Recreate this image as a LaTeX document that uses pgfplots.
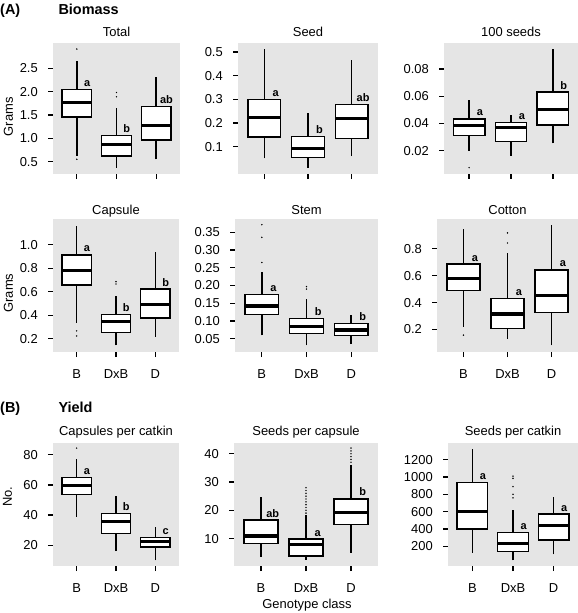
\documentclass[border=0pt]{standalone}
\usepackage{pgfplots}
\pgfplotsset{compat=1.18}
\usepackage{fontspec}
\setmainfont{Liberation Sans}
\definecolor{ggray}{RGB}{229,229,229}

\pgfplotsset{
  gg/.style={
    scale only axis,
    anchor=north west,
    axis background/.style={fill=ggray},
    axis line style={draw=none},
    tick pos=left,
    tick align=outside,
    major tick length=5bp,
    major tick style={draw=black, line width=1.3bp},
    tick style={draw=black, line width=1.3bp},
    scaled y ticks=false,
    xmin=0.4, xmax=3.6,
    xtick={1,2,3},
    xticklabels={B,DxB,D},
    font=\fontsize{13}{15}\selectfont,
    /pgf/number format/assume math mode=true,
    yticklabel style={anchor=east, inner sep=0pt, xshift=-10bp},
    xticklabel style={anchor=base, inner sep=0pt, yshift=-21.6bp},
    clip=false,
  },
  wl/.style={black, line width=1.4bp, mark=none},
  bl/.style={draw=black, fill=white, line width=1.4bp, mark=none, line join=miter},
  md/.style={black, line width=3.2bp, mark=none},
  ol/.style={only marks, mark=*, mark size=0.65bp, black, mark options={line width=0.1bp}},
}
\tikzset{lt/.style={anchor=base, yshift=3bp, inner sep=0pt, font=\fontsize{11}{13}\selectfont\bfseries}}
% position, lower whisker, Q1, median, Q3, upper whisker
\newcommand{\bx}[6]{%
  \addplot[wl] coordinates {(#1,#2) (#1,#3)};
  \addplot[wl] coordinates {(#1,#5) (#1,#6)};
  \addplot[bl] table[row sep=\\, x expr=#1+\thisrow{d}, y=v] {d v\\ 0 #3\\ 0.375 #3\\ 0.375 #5\\ -0.375 #5\\ -0.375 #3\\ 0 #3\\};
  \addplot[md] table[row sep=\\, x expr=#1+\thisrow{d}, y=v] {d v\\ -0.375 #4\\ 0.375 #4\\};
}
\newcommand{\bxo}[7]{\bx{#1}{#2}{#3}{#4}{#5}{#6}%
  \addplot[ol] table[row sep=\\, x expr=#1, y index=0] {v\\ #7};}

\begin{document}
\begin{tikzpicture}
\useasboundingbox (0bp,0bp) rectangle (578bp,-613bp);

% headers
\node[anchor=base west, inner sep=0pt, font=\fontsize{14.5}{16}\selectfont\bfseries] at (0bp,-14.5bp) {(A)};
\node[anchor=base west, inner sep=0pt, font=\fontsize{14.5}{16}\selectfont\bfseries] at (58.3bp,-14.5bp) {Biomass};
\node[anchor=base west, inner sep=0pt, font=\fontsize{14.5}{16}\selectfont\bfseries] at (0bp,-412bp) {(B)};
\node[anchor=base west, inner sep=0pt, font=\fontsize{14.5}{16}\selectfont\bfseries] at (58.3bp,-412bp) {Yield};

% panel titles
\begin{scope}[every node/.style={anchor=base, inner sep=0pt, font=\fontsize{13}{15}\selectfont}]
\node at (116.5bp,-36bp) {Total};
\node at (308bp,-36bp) {Seed};
\node at (511bp,-36bp) {100 seeds};
\node at (116bp,-214bp) {Capsule};
\node at (306.5bp,-214bp) {Stem};
\node at (507.5bp,-214bp) {Cotton};
\node at (116bp,-435bp) {Capsules per catkin};
\node at (306bp,-435bp) {Seeds per capsule};
\node at (513bp,-435bp) {Seeds per catkin};
\node at (307bp,-608bp) {Genotype class};
\end{scope}
\begin{scope}[every node/.style={rotate=90, anchor=center, inner sep=0pt, font=\fontsize{13}{15}\selectfont}]
\node at (8.3bp,-116.7bp) {Grams};
\node at (8.3bp,-293bp) {Grams};
\node at (7.5bp,-496.7bp) {No.};
\end{scope}

% ---------- Row 1 ----------
\begin{axis}[gg, at={(53bp,-43bp)}, width=127bp, height=131bp, ymin=0.236, ymax=3.04,
  ytick={0.5,1,1.5,2,2.5}, yticklabels={0.5,1.0,1.5,2.0,2.5}, xticklabels={,,}]
\bxo{1}{0.63}{1.46}{1.76}{2.04}{2.66}{2.91\\ 0.55\\}
\bxo{2}{0.37}{0.62}{0.87}{1.06}{1.64}{1.98\\ 1.89\\}
\bx{3}{0.55}{0.96}{1.27}{1.68}{2.31}
\node[lt] at (axis cs:1.26,2.04) {a};
\node[lt] at (axis cs:2.26,1.06) {b};
\node[lt] at (axis cs:3.26,1.68) {ab};
\end{axis}

\begin{axis}[gg, at={(238bp,-43bp)}, width=140bp, height=131bp, ymin=-0.016, ymax=0.538,
  ytick={0.1,0.2,0.3,0.4,0.5}, yticklabels={0.1,0.2,0.3,0.4,0.5}, xticklabels={,,}]
\bx{1}{0.050}{0.141}{0.224}{0.298}{0.513}
\bx{2}{0.011}{0.055}{0.093}{0.142}{0.244}
\bx{3}{0.060}{0.133}{0.220}{0.277}{0.465}
\node[lt] at (axis cs:1.26,0.298) {a};
\node[lt] at (axis cs:2.26,0.142) {b};
\node[lt] at (axis cs:3.26,0.277) {ab};
\end{axis}

\begin{axis}[gg, at={(444bp,-43bp)}, width=134bp, height=131bp, ymin=0.0028, ymax=0.0992,
  ytick={0.02,0.04,0.06,0.08}, yticklabels={0.02,0.04,0.06,0.08}, xticklabels={,,}]
\bxo{1}{0.0198}{0.0311}{0.0384}{0.0434}{0.0569}{0.0075\\}
\bx{2}{0.0161}{0.0269}{0.0370}{0.0409}{0.0463}
\bx{3}{0.0254}{0.0389}{0.0500}{0.0630}{0.0948}
\node[lt] at (axis cs:1.26,0.0434) {a};
\node[lt] at (axis cs:2.26,0.0409) {a};
\node[lt] at (axis cs:3.26,0.0630) {b};
\end{axis}

% ---------- Row 2 ----------
\begin{axis}[gg, at={(53bp,-219bp)}, width=126bp, height=133bp, ymin=0.086, ymax=1.22,
  ytick={0.2,0.4,0.6,0.8,1.0}, yticklabels={0.2,0.4,0.6,0.8,1.0}]
\bxo{1}{0.334}{0.657}{0.780}{0.914}{1.163}{0.266\\ 0.223\\}
\bxo{2}{0.143}{0.251}{0.343}{0.406}{0.563}{0.686\\ 0.666\\}
\bx{3}{0.214}{0.377}{0.494}{0.623}{0.940}
\node[lt] at (axis cs:1.26,0.914) {a};
\node[lt] at (axis cs:2.26,0.406) {b};
\node[lt] at (axis cs:3.26,0.623) {b};
\end{axis}

\begin{axis}[gg, at={(235bp,-219bp)}, width=143bp, height=133bp, ymin=0.012, ymax=0.388,
  ytick={0.05,0.1,0.15,0.2,0.25,0.3,0.35}, yticklabels={0.05,0.10,0.15,0.20,0.25,0.30,0.35}]
\bxo{1}{0.059}{0.118}{0.142}{0.175}{0.239}{0.265\\ 0.336\\ 0.372\\}
\bxo{2}{0.031}{0.064}{0.085}{0.107}{0.161}{0.197\\ 0.190\\}
\bx{3}{0.034}{0.059}{0.074}{0.093}{0.118}
\node[lt] at (axis cs:1.26,0.175) {a};
\node[lt] at (axis cs:2.26,0.107) {b};
\node[lt] at (axis cs:3.26,0.093) {b};
\end{axis}

\begin{axis}[gg, at={(437bp,-219bp)}, width=141bp, height=133bp, ymin=0.033, ymax=1.02,
  ytick={0.2,0.4,0.6,0.8}, yticklabels={0.2,0.4,0.6,0.8}]
\bxo{1}{0.220}{0.489}{0.581}{0.685}{0.949}{0.158\\}
\bxo{2}{0.133}{0.207}{0.315}{0.432}{0.768}{0.917\\ 0.842\\}
\bx{3}{0.083}{0.325}{0.451}{0.643}{0.972}
\node[lt] at (axis cs:1.26,0.685) {a};
\node[lt] at (axis cs:2.26,0.432) {a};
\node[lt] at (axis cs:3.26,0.643) {a};
\end{axis}

% ---------- Row 3 ----------
\begin{axis}[gg, at={(53bp,-443bp)}, width=126bp, height=123bp, ymin=6.2, ymax=87.8,
  ytick={20,40,60,80}, yticklabels={20,40,60,80}]
\bxo{1}{38.9}{53.8}{59.6}{64.9}{77.1}{84.4\\}
\bx{2}{16.0}{27.8}{35.6}{41.1}{52.9}
\bx{3}{10.0}{18.9}{22.2}{25.1}{32.0}
\node[lt] at (axis cs:1.26,64.9) {a};
\node[lt] at (axis cs:2.26,41.1) {b};
\node[lt] at (axis cs:3.26,25.1) {c};
\end{axis}

\begin{axis}[gg, at={(234bp,-443bp)}, width=144bp, height=123bp, ymin=0.3, ymax=43.8,
  ytick={10,20,30,40}, yticklabels={10,20,30,40}]
\bx{1}{3.5}{8.2}{10.9}{16.5}{24.8}
\bxo{2}{2.5}{3.8}{8.0}{9.8}{18.3}{19\\ 20\\ 21\\ 22\\ 23\\ 24\\ 25\\ 26\\ 27\\ 28\\}
\bxo{3}{5.0}{14.9}{19.2}{24.0}{36.1}{37\\ 38\\ 39\\ 40\\ 41\\ 42\\}
\node[lt] at (axis cs:1.26,16.5) {ab};
\node[lt] at (axis cs:2.26,9.8) {a};
\node[lt] at (axis cs:3.26,24.0) {b};
\end{axis}

\begin{axis}[gg, at={(448bp,-443bp)}, width=130bp, height=123bp, ymin=-29, ymax=1394,
  ytick={200,400,600,800,1000,1200}, yticklabels={200,400,600,800,1000,1200}]
\bx{1}{122}{398}{599}{940}{1328}
\bxo{2}{37}{138}{231}{359}{619}{1010\\ 985\\ 890\\ 800\\ 760\\}
\bx{3}{107}{270}{444}{572}{774}
\node[lt] at (axis cs:1.26,940) {a};
\node[lt] at (axis cs:2.26,359) {a};
\node[lt] at (axis cs:3.26,572) {a};
\end{axis}
\end{tikzpicture}
\end{document}
